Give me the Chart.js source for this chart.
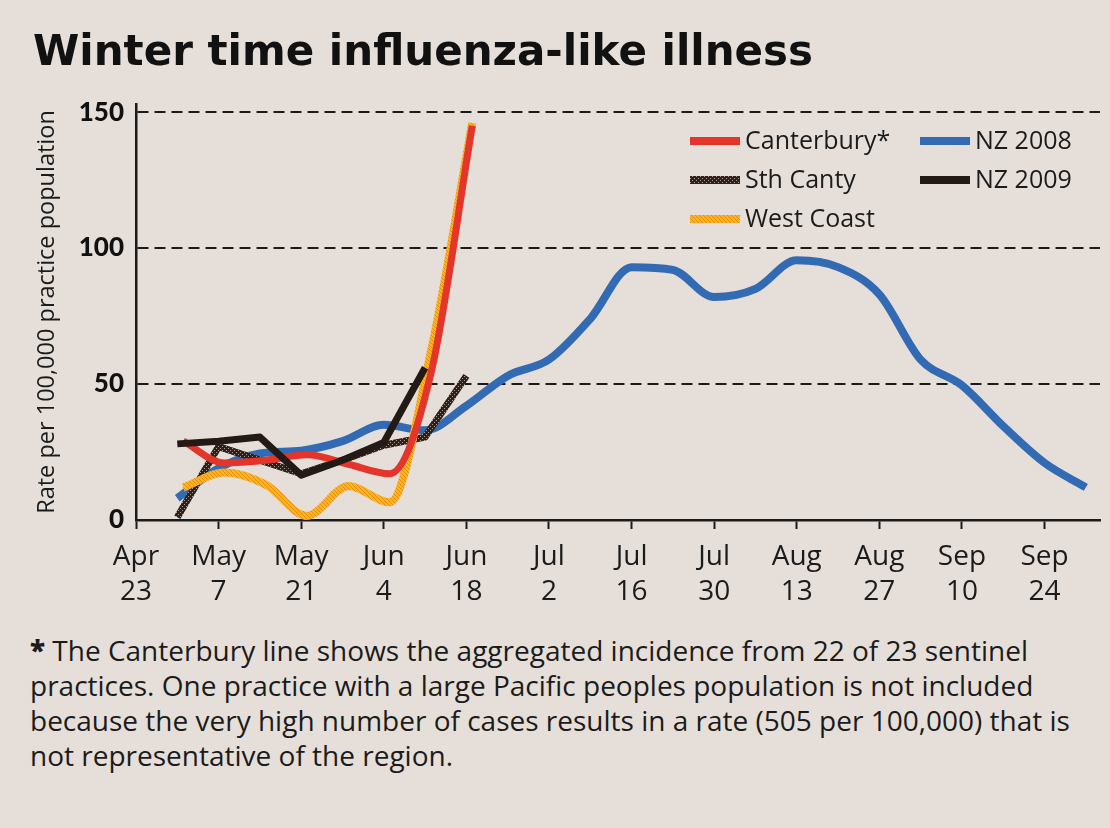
<!DOCTYPE html>
<html>
<head>
<meta charset="utf-8">
<title>Winter time influenza-like illness</title>
<script src="https://cdn.jsdelivr.net/npm/chart.js@4.4.1/dist/chart.umd.min.js"></script>
<style>
  html, body { margin: 0; padding: 0; background: #e6dfd9; }
  body { width: 1110px; height: 828px; position: relative; overflow: hidden; }
  #wrap { position: absolute; left: 0; top: 0; width: 1110px; height: 625px; }
  #note { position: absolute; left: 30px; top: 633px; font: 28px "Open Sans", sans-serif;
          line-height: 35px; color: #1b1b1b; white-space: nowrap; }
  #note b { font-weight: 800; }
</style>
</head>
<body>
<div id="wrap"><canvas id="flu"></canvas></div>
<div id="note"><b>*</b> The Canterbury line shows the aggregated incidence from 22 of 23 sentinel<br>practices. One practice with a large Pacific peoples population is not included<br>because the very high number of cases results in a rate (505 per 100,000) that is<br>not representative of the region.</div>
<script>
// x values are days after Apr 23
const tickDays = [0, 14, 28, 42, 56, 70, 84, 98, 112, 126, 140, 154];
const tickLabels = [["Apr", "23"], ["May", "7"], ["May", "21"], ["Jun", "4"], ["Jun", "18"], ["Jul", "2"],
  ["Jul", "16"], ["Jul", "30"], ["Aug", "13"], ["Aug", "27"], ["Sep", "10"], ["Sep", "24"]];
const yTicks = [0, 50, 100, 150];

const weeks2008 = [7, 14, 21, 28, 35, 42, 49, 56, 63, 70, 77, 84, 91, 98, 105, 112, 119, 126, 133, 140, 147, 154, 161];
const nz2008 = [8, 19, 24.5, 25.5, 29, 35, 33, 42, 53, 59, 74, 93, 92, 82, 85, 95.5, 93, 83, 59, 49.5, 34.5, 21, 12];

const weeks2009 = [7, 14, 21, 28, 35, 42, 49];
const nz2009 = [28, 29, 30.5, 16.5, 22, 28.5, 56];

const sthCantyWeeks = [7, 14, 21, 28, 35, 42, 49, 56];
const sthCanty = [1, 27, 22, 17, 22, 27.5, 30.5, 53];

const regionWeeks = [8, 15, 22, 29, 36, 43, 50, 57];
const canterbury = [29, 21, 22, 24, 20.5, 17, 54, 145];
const westCoast = [12, 17.5, 13, 1.5, 12.5, 6.5, 62, 146];

const legendOrder = ["Canterbury*", "Sth Canty", "West Coast", "NZ 2008", "NZ 2009"];

function pts(days, vals) {
  return days.map((d, i) => ({ x: d, y: vals[i] }));
}

// small tiles for the printed textures
function pattern(bg, fg, cells) {
  const c = document.createElement('canvas');
  c.width = 4; c.height = 4;
  const g = c.getContext('2d');
  g.fillStyle = bg; g.fillRect(0, 0, 4, 4);
  g.fillStyle = fg;
  cells.forEach(p => g.fillRect(p[0], p[1], 1, 1));
  return g.createPattern(c, 'repeat');
}
const ink = '#1b1b1b';
const checker = pattern('#2e201b', '#a89a8f', [[0, 0], [2, 2]]);
const hatch = pattern('#f6b81c', '#ec8a12', [[0, 0], [1, 1], [2, 2], [3, 3]]);

const legendPlugin = {
  id: 'boxLegend',
  afterDatasetsDraw(chart) {
    const { ctx, chartArea } = chart;
    ctx.save();
    ctx.font = '25px "Open Sans", sans-serif';
    ctx.textBaseline = 'middle';
    ctx.fillStyle = ink;
    legendOrder.forEach((label, i) => {
      const ds = chart.data.datasets.find(d => d.label === label);
      const col = i < 3 ? 0 : 1;
      const row = i < 3 ? i : i - 3;
      const x = chartArea.right - 410 + col * 230;
      const y = chartArea.top + 37 + row * 39;
      ctx.strokeStyle = ds.borderColor;
      ctx.lineWidth = 8;
      ctx.beginPath();
      ctx.moveTo(x, y);
      ctx.lineTo(x + 50, y);
      ctx.stroke();
      ctx.fillText(label, x + 55, y + 1);
    });
    ctx.restore();
  }
};

const ctx = document.getElementById('flu').getContext('2d');
const chart = new Chart(ctx, {
  type: 'line',
  data: {
    datasets: [
      { label: 'Canterbury*', data: pts(regionWeeks, canterbury), borderColor: '#e3352a',
        borderWidth: 7, cubicInterpolationMode: 'monotone', order: 1 },
      { label: 'Sth Canty', data: pts(sthCantyWeeks, sthCanty), borderColor: checker,
        borderWidth: 7, tension: 0, order: 3 },
      { label: 'West Coast', data: pts(regionWeeks, westCoast), borderColor: hatch,
        borderWidth: 8, cubicInterpolationMode: 'monotone', order: 2 },
      { label: 'NZ 2008', data: pts(weeks2008, nz2008), borderColor: '#326bb4',
        borderWidth: 8, cubicInterpolationMode: 'monotone', order: 4 },
      { label: 'NZ 2009', data: pts(weeks2009, nz2009), borderColor: '#231915',
        borderWidth: 7, tension: 0, order: 0 }
    ]
  },
  options: {
    responsive: true,
    maintainAspectRatio: false,
    animation: false,
    layout: { padding: { left: 33, right: 10, top: 33, bottom: 0 } },
    elements: { point: { radius: 0 }, line: { borderCapStyle: 'butt', borderJoinStyle: 'round' } },
    plugins: {
      legend: { display: false },
      tooltip: { enabled: false },
      title: {
        display: true,
        text: 'Winter time influenza-like illness',
        align: 'start',
        color: '#111',
        font: { family: '"DejaVu Sans", sans-serif', size: 42, weight: 'bold', lineHeight: 1 },
        padding: { top: 0, bottom: 29 }
      }
    },
    scales: {
      x: {
        type: 'linear',
        min: 0,
        max: 163.4,
        afterBuildTicks: s => { s.ticks = tickDays.map(v => ({ value: v })); },
        afterFit: s => { s.height = 105; },
        grid: { drawOnChartArea: false, drawTicks: true, tickLength: 9, tickWidth: 2, tickColor: ink },
        border: { display: true, color: ink, width: 2.5 },
        ticks: {
          autoSkip: false,
          maxRotation: 0,
          padding: 11,
          color: ink,
          font: { family: '"Open Sans", sans-serif', size: 28, lineHeight: 1.25 },
          callback: (v, i) => tickLabels[i]
        }
      },
      y: {
        min: 0,
        max: 153,
        afterBuildTicks: s => { s.ticks = yTicks.map(v => ({ value: v })); },
        afterFit: s => { s.width = 103; },
        grid: { color: ink, lineWidth: 2, drawTicks: false },
        border: { display: true, color: ink, width: 2.5, dash: [11, 6] },
        ticks: {
          padding: 12,
          color: '#111',
          font: { family: 'Lato, "DejaVu Sans", sans-serif', size: 26, weight: 900 }
        },
        title: {
          display: true,
          text: 'Rate per 100,000 practice population',
          color: ink,
          padding: { top: 0, bottom: 0 },
          font: { family: '"Open Sans", sans-serif', size: 23.5 }
        }
      }
    }
  },
  plugins: [legendPlugin]
});
</script>
</body>
</html>
